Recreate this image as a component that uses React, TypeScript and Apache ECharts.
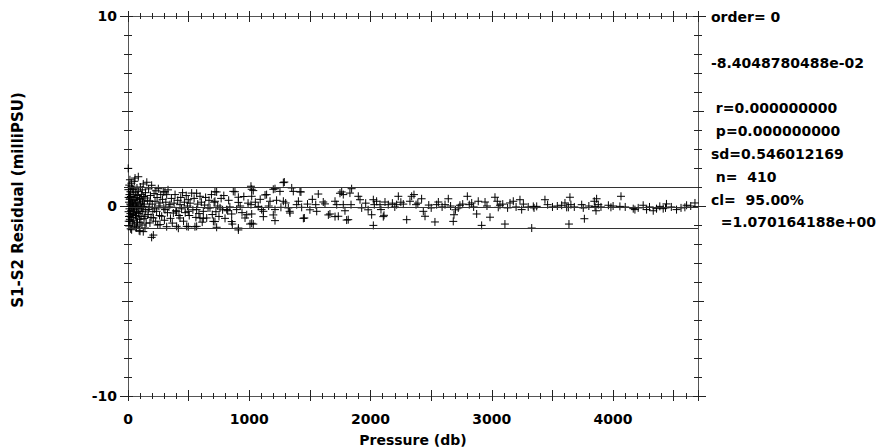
import React, { useEffect, useRef } from "react";
import * as echarts from "echarts";

// ---------- data ----------
const xTickLabels = ["0", "1000", "2000", "3000", "4000"];
const yTickLabels = ["-10", "0", "10"];
const xAxisTitle = "Pressure (db)";
const yAxisTitle = "S1-S2 Residual (milliPSU)";

const meanResidual = -8.4048780488e-2;
const confidenceHalfWidth = 1.070164188;

const statsLines = [
  "order= 0",
  "-8.4048780488e-02",
  " r=0.000000000",
  " p=0.000000000",
  "sd=0.546012169",
  " n=  410",
  "cl=  95.00%",
  "  =1.070164188e+00",
];

// [pressure (db), residual (milliPSU)]
const pointsShallow: [number, number][] = [
  [2, 1.98], [3, 0.86], [5, 0.45], [5, -0.3], [6, -0.8], [8, 0.2], [8, -0.55], [10, 1.1],
  [10, -1.05], [12, 0.6], [12, -0.15], [14, 0.35], [15, -0.7], [16, 1.38], [16, 0.42], [16, -0.02],
  [16, -0.54], [16, -0.81], [18, 0.1], [20, -0.4], [20, 0.75], [22, -1.2], [24, 0.5], [25, 0.05],
  [26, -0.25], [28, 1.2], [30, 1.04], [30, -1.25], [30, -0.6], [32, 0.25], [34, -0.1], [35, 0.9],
  [36, -0.9], [38, 0.15], [40, -0.45], [42, 0.6], [44, 0.86], [44, -0.28], [46, 0.0], [48, -0.75],
  [50, 0.3], [52, 1.3], [52, -1.0], [55, -0.2], [58, 1.47], [58, 0.33], [60, 0.7], [62, -0.5],
  [64, 0.1], [66, -1.15], [68, 0.45], [70, -0.35], [71, -0.02], [71, -0.63], [71, -1.09], [74, 0.95],
  [76, 0.2], [78, -0.85], [80, 0.55], [82, -0.15], [85, 0.77], [85, 1.54], [88, -0.4], [90, 0.05],
  [92, -1.3], [95, 0.4], [96, -0.7], [99, 0.33], [99, -0.28], [99, -0.89], [99, -1.33], [102, 1.0],
  [105, 0.15], [108, -0.55], [110, 0.6], [112, -0.1], [115, -1.0], [118, 0.85], [120, 0.25], [122, -0.3],
  [126, 1.16], [126, -0.02], [126, -1.35], [130, 0.5], [132, -0.65], [135, 0.1], [140, 0.42], [140, -0.54],
  [140, -1.16], [144, 0.7], [146, -0.2], [150, -0.9],
];

const pointsUpper: [number, number][] = [
  [155, 1.25], [160, 0.3], [165, -0.45], [167, -0.19], [170, 0.9], [175, -0.05], [181, 0.25], [181, -0.89],
  [185, 0.55], [190, -0.6], [195, 1.09], [195, -1.65], [200, 0.1], [205, -0.3], [209, -0.63], [209, -1.53],
  [215, 0.65], [220, -0.15], [223, 0.25], [228, -0.8], [230, 0.8], [236, -0.28], [240, 0.45], [245, -1.0],
  [250, 0.91], [255, 0.0], [260, -0.5], [264, 0.16], [264, -0.98], [270, 0.6], [278, -0.54], [285, 0.35],
  [291, 0.74], [295, -0.1], [300, -0.75], [305, -0.19], [305, 0.75], [312, 0.2], [319, 0.6], [319, -1.09],
  [325, -0.35], [330, 0.85], [338, -0.05], [346, 0.07], [350, -0.65], [358, 0.4], [365, -0.9], [374, -0.37],
  [380, 0.15], [388, 0.6], [395, -0.25], [401, -0.28], [401, -1.07], [410, 0.3], [415, -1.17], [420, -0.5],
  [429, 0.07], [429, -0.63], [435, 0.45], [442, -0.15], [450, 0.7], [458, -0.8], [465, 0.2], [472, -0.35],
  [480, 0.55], [484, -1.07], [490, 0.0], [497, 0.33], [497, -0.28], [497, -1.09],
  [505, -0.5], [512, 0.15], [525, 0.68], [535, -0.2], [545, 0.4], [552, -1.09], [560, -0.6], [566, -0.19],
  [566, 0.67], [566, -1.07], [575, 0.1], [585, -0.4], [594, 0.51], [594, -0.63], [605, 0.2], [612, -0.85],
  [621, -0.28], [621, -0.65], [632, 0.05], [640, 0.45], [649, -0.63], [660, -0.1], [668, 0.3], [676, -0.1],
  [688, 0.6], [695, -0.45], [704, -0.81], [710, 0.2], [717, 0.25], [717, 0.75], [717, -0.82], [725, -0.3],
  [731, 0.74], [731, -1.12], [740, 0.0], [750, -0.55], [759, -0.1], [768, 0.4], [780, -0.2], [790, 0.55],
  [800, -0.65], [814, -0.19], [822, -0.25], [830, 0.3], [840, -0.05], [855, -0.42], [855, -0.82], [860, -0.95],
  [868, 0.77], [882, 0.75], [896, -0.19], [910, 0.46], [910, 0.19], [910, -1.16], [910, -1.26], [925, 0.0],
  [940, -0.35], [955, 0.5], [965, -0.63], [979, -0.46], [990, 0.15],
];

const pointsMid: [number, number][] = [
  [1006, -0.95], [1014, 1.04], [1014, 0.07], [1020, 0.51], [1020, -0.42], [1020, 0.88], [1020, -0.91], [1033, 0.81],
  [1033, -0.95], [1050, 0.2], [1074, -0.02], [1090, 0.35], [1102, -0.19], [1116, -0.28], [1116, -0.56], [1130, 0.58],
  [1143, 0.6], [1160, 0.0], [1171, 0.25], [1198, 0.88], [1198, -0.47], [1212, -0.19], [1212, -0.77], [1212, 0.91],
  [1225, 0.3], [1253, 0.77], [1261, -0.07], [1281, 0.25], [1281, 1.23], [1289, 1.26], [1300, 0.16], [1322, -0.1],
  [1333, -0.28], [1336, -0.37], [1350, 0.95], [1363, 0.77], [1391, 0.07], [1405, 0.25], [1418, 0.75], [1426, 0.74],
  [1432, -0.07], [1446, -0.65], [1454, -0.63], [1480, 0.1], [1500, -0.2], [1520, 0.35], [1548, 0.07], [1556, -0.28],
  [1569, 0.63], [1610, 0.21], [1624, 0.11], [1652, -0.47], [1665, -0.42], [1707, 0.25], [1707, -0.56], [1721, 0.07],
  [1734, -0.54], [1748, 0.67], [1762, 0.74], [1775, 0.6], [1775, 0.07], [1789, -0.25], [1803, -0.74], [1816, -0.72],
  [1830, 0.68], [1839, 0.07], [1844, 0.91], [1899, 0.51], [1913, 0.33], [1927, -0.1], [1960, 0.15], [1980, -0.2],
  [2009, -0.46], [2023, 0.33], [2023, -1.02], [2031, 0.07], [2050, 0.25], [2078, 0.07], [2086, -0.19], [2105, -0.56],
  [2111, -0.49], [2119, 0.21], [2146, 0.07], [2180, 0.15], [2200, -0.05], [2215, 0.07], [2229, 0.51], [2250, 0.2],
  [2270, 0.1], [2298, -0.72], [2325, 0.25], [2339, 0.51], [2358, 0.6], [2375, 0.07], [2390, 0.15], [2421, 0.38],
  [2435, -0.28], [2449, -0.54], [2480, 0.05], [2500, -0.1], [2531, -0.84], [2545, 0.07], [2559, 0.21], [2590, -0.05],
  [2614, 0.07], [2641, 0.38], [2660, 0.0], [2682, -0.81], [2688, -0.46], [2700, -0.2], [2723, -0.1], [2737, 0.04],
  [2760, 0.1], [2798, 0.51], [2814, 0.07], [2834, 0.16], [2850, -0.05], [2875, -0.42], [2888, 0.25], [2916, -1.02],
  [2944, 0.21], [2960, 0.0], [2985, -0.59],
];

const pointsDeep: [number, number][] = [
  [3026, 0.46], [3045, 0.25], [3053, -0.07], [3067, 0.04], [3090, 0.1], [3108, -0.95], [3130, -0.1], [3150, 0.16],
  [3177, 0.25], [3200, -0.05], [3232, 0.33], [3246, -0.19], [3260, 0.1], [3300, -0.05], [3329, -1.16], [3342, -0.02],
  [3348, -0.1], [3370, -0.02], [3438, 0.33], [3460, 0.07], [3500, -0.05], [3540, 0.0], [3576, 0.04], [3603, 0.16],
  [3617, -0.07], [3631, -0.07], [3636, -0.95], [3644, 0.46], [3652, 0.07], [3680, -0.05], [3741, 0.07], [3754, -0.1],
  [3763, -0.67], [3800, 0.0], [3845, 0.25], [3851, -0.02], [3859, -0.25], [3864, 0.38], [3878, 0.07], [3900, -0.05],
  [3961, 0.04], [3982, -0.07], [4000, 0.0], [4056, -0.02], [4065, 0.51], [4100, -0.05], [4166, -0.14], [4180, -0.19],
  [4207, -0.1], [4248, 0.04], [4276, -0.19], [4300, -0.05], [4331, -0.25], [4358, -0.14], [4385, -0.02], [4413, -0.14],
  [4432, -0.1], [4440, 0.11], [4480, -0.05], [4523, -0.19], [4560, -0.1], [4592, -0.07], [4606, 0.04], [4640, 0.0],
  [4675, 0.16],
];

// ---------- layout / style ----------
const X_MIN = 0;
const X_MAX = 4700;
const Y_MIN = -10;
const Y_MAX = 10;
const FONT = '"DejaVu Sans", "Liberation Sans", sans-serif';
const AXIS_COLOR = "#555";
const TICK_COLOR = "#222";

const statsLayout = [
  { x: 711, y: 17 },
  { x: 711, y: 63 },
  { x: 711, y: 108 },
  { x: 711, y: 131 },
  { x: 711, y: 154 },
  { x: 711, y: 177 },
  { x: 711, y: 200 },
  { x: 711, y: 222 },
];

function tickAxis(
  dim: "x" | "y",
  position: string,
  interval: number,
  inside: boolean,
  length: number,
  showLine = false
) {
  return {
    type: "value",
    gridIndex: 0,
    position,
    min: dim === "x" ? X_MIN : Y_MIN,
    max: dim === "x" ? X_MAX : Y_MAX,
    interval,
    axisLine: { show: showLine, onZero: false, lineStyle: { color: AXIS_COLOR, width: 1 } },
    splitLine: { show: false },
    axisLabel: { show: false },
    axisTick: { show: true, inside, length, lineStyle: { color: TICK_COLOR, width: 1 } },
  };
}

export default function App() {
  const ref = useRef<HTMLDivElement>(null);

  useEffect(() => {
    if (!ref.current) return;
    const chart = echarts.init(ref.current, undefined, { renderer: "svg" });

    const allPoints = [...pointsShallow, ...pointsUpper, ...pointsMid, ...pointsDeep];

    const labelStyle = {
      fontFamily: FONT,
      fontWeight: "bold" as const,
      fontSize: 14,
      color: "#000",
    };

    const xAxes: any[] = [
      // bottom: line + labels + title
      {
        type: "value",
        gridIndex: 0,
        position: "bottom",
        min: X_MIN,
        max: X_MAX,
        interval: 1000,
        axisLine: { show: true, onZero: false, lineStyle: { color: AXIS_COLOR, width: 1 } },
        splitLine: { show: false },
        axisTick: { show: false },
        axisLabel: {
          show: true,
          margin: 16,
          ...labelStyle,
          formatter: (v: number) => (xTickLabels.includes(String(v)) ? String(v) : ""),
        },
        name: xAxisTitle,
        nameLocation: "middle",
        nameGap: 37,
        nameTextStyle: { fontFamily: FONT, fontWeight: "bold", fontSize: 14, color: "#000" },
      },
      tickAxis("x", "bottom", 100, true, 3),
      tickAxis("x", "bottom", 100, false, 3),
      tickAxis("x", "bottom", 500, true, 6),
      tickAxis("x", "bottom", 500, false, 5),
      tickAxis("x", "top", 100, true, 3, true),
      tickAxis("x", "top", 100, false, 3),
      tickAxis("x", "top", 500, true, 6),
      tickAxis("x", "top", 500, false, 5),
    ];

    const yAxes: any[] = [
      {
        type: "value",
        gridIndex: 0,
        position: "left",
        min: Y_MIN,
        max: Y_MAX,
        interval: 10,
        axisLine: { show: true, onZero: false, lineStyle: { color: AXIS_COLOR, width: 1 } },
        splitLine: { show: false },
        axisTick: { show: true, inside: false, length: 8, lineStyle: { color: TICK_COLOR, width: 1 } },
        axisLabel: {
          show: true,
          margin: 11,
          ...labelStyle,
          formatter: (v: number) => (yTickLabels.includes(String(v)) ? String(v) : ""),
        },
      },
      tickAxis("y", "left", 1, true, 4),
      tickAxis("y", "left", 1, false, 4),
      tickAxis("y", "left", 5, true, 5),
      tickAxis("y", "left", 5, false, 6),
      tickAxis("y", "right", 1, true, 4, true),
      tickAxis("y", "right", 1, false, 4),
      tickAxis("y", "right", 5, true, 5),
      tickAxis("y", "right", 5, false, 6),
      tickAxis("y", "right", 10, false, 8),
    ];

    const graphics: any[] = [
      {
        type: "text",
        x: 18,
        y: 200,
        rotation: Math.PI / 2,
        style: {
          text: yAxisTitle,
          font: `bold 15px ${FONT}`,
          fill: "#000",
          textAlign: "center",
          textVerticalAlign: "middle",
        },
      },
      ...statsLines.map((t, i) => ({
        type: "text",
        x: statsLayout[i].x,
        y: statsLayout[i].y,
        style: {
          text: t,
          font: `bold 14px ${FONT}`,
          fill: "#000",
          textAlign: "left",
          textVerticalAlign: "middle",
        },
      })),
    ];

    chart.setOption({
      animation: false,
      backgroundColor: "#fff",
      grid: {
        left: 128,
        top: 16,
        right: 180,
        bottom: 52,
        containLabel: false,
        outerBoundsMode: "none",
      },
      xAxis: xAxes,
      yAxis: yAxes,
      graphic: graphics,
      series: [
        {
          type: "scatter",
          xAxisIndex: 0,
          yAxisIndex: 0,
          data: allPoints,
          symbol: "path://M4,0L4,8M0,4L8,4",
          symbolSize: 8,
          itemStyle: { color: "rgba(0,0,0,0)", borderColor: "#000", borderWidth: 1, opacity: 1 },
          silent: true,
          markLine: {
            silent: true,
            symbol: ["none", "none"],
            label: { show: false },
            lineStyle: { color: "#333", width: 1, type: "solid" },
            data: [
              { yAxis: meanResidual },
              { yAxis: meanResidual + confidenceHalfWidth },
              { yAxis: meanResidual - confidenceHalfWidth },
            ],
          },
        },
      ],
    });

    return () => chart.dispose();
  }, []);

  return (
    <div
      ref={ref}
      style={{ position: "fixed", left: 0, top: 0, width: 878, height: 448, background: "#fff" }}
    />
  );
}
